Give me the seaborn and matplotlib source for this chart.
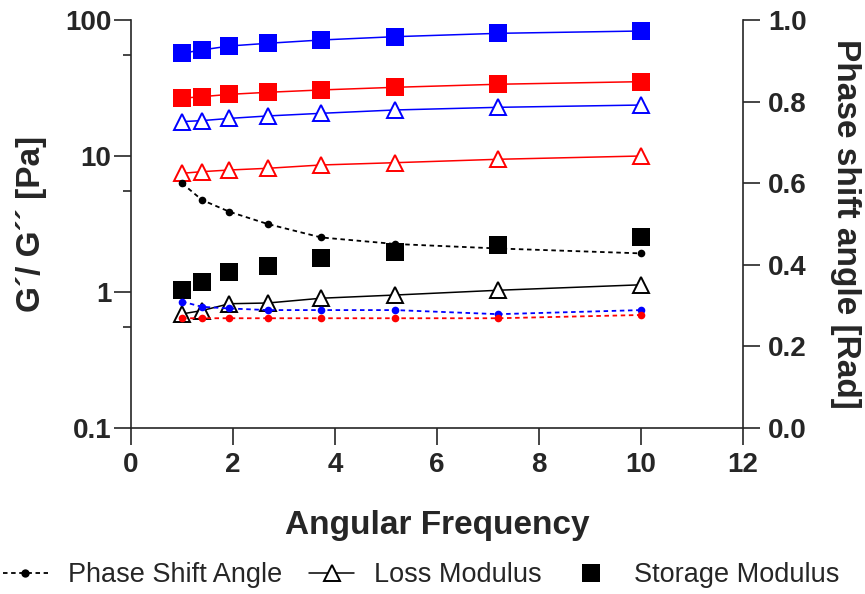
import matplotlib
matplotlib.use("Agg")
import matplotlib.pyplot as plt
from matplotlib.lines import Line2D
import seaborn as sns

# -------- Data --------
freq = [1.0, 1.39, 1.93, 2.68, 3.73, 5.18, 7.20, 10.0]

storage_blue = [56.9, 60.2, 64.4, 67.4, 71.3, 75.4, 79.8, 83.0]
storage_red = [26.6, 27.3, 28.4, 29.4, 30.6, 32.0, 33.7, 35.2]
storage_black = [1.03, 1.19, 1.41, 1.55, 1.77, 1.98, 2.22, 2.52]

loss_blue = [17.9, 18.2, 18.9, 19.7, 20.6, 21.8, 22.8, 23.7]
loss_red = [7.46, 7.67, 7.89, 8.12, 8.59, 8.93, 9.46, 10.0]
loss_black = [0.69, 0.73, 0.82, 0.83, 0.90, 0.95, 1.03, 1.13]

phase_black = [0.600, 0.559, 0.530, 0.500, 0.467, 0.451, 0.440, 0.428]
phase_blue = [0.310, 0.297, 0.293, 0.289, 0.289, 0.289, 0.279, 0.289]
phase_red = [0.269, 0.269, 0.269, 0.269, 0.269, 0.269, 0.269, 0.277]

x_ticks = [0, 2, 4, 6, 8, 10, 12]
left_ticks = [0.1, 1, 10, 100]
left_labels = ["0.1", "1", "10", "100"]
left_minor = [0.55, 5.5, 55]
right_ticks = [0.0, 0.2, 0.4, 0.6, 0.8, 1.0]
right_labels = ["0.0", "0.2", "0.4", "0.6", "0.8", "1.0"]

BLUE = "#0000FF"
RED = "#FF0000"
BLACK = "#000000"

# -------- Style --------
sns.set_style("ticks")
plt.rcParams["font.family"] = ["Liberation Sans", "DejaVu Sans"]

fig = plt.figure(figsize=(8.65, 5.94), dpi=100)
ax = fig.add_axes([131 / 865, 1 - 428 / 594, 612 / 865, 408 / 594])
ax2 = ax.twinx()

line_w = 1.1

# storage modulus (filled squares)
for vals, col in [(storage_blue, BLUE), (storage_red, RED)]:
    sns.lineplot(x=freq, y=vals, ax=ax, color=col, linewidth=line_w, marker="s",
                 markersize=13, markerfacecolor=col, markeredgecolor=col,
                 markeredgewidth=0, sort=False)
sns.scatterplot(x=freq, y=storage_black, ax=ax, color=BLACK, marker="s", s=13 ** 2,
                linewidth=0, zorder=3)

# loss modulus (open triangles)
for vals, col in [(loss_blue, BLUE), (loss_red, RED), (loss_black, BLACK)]:
    sns.lineplot(x=freq, y=vals, ax=ax, color=col, linewidth=line_w, marker="^",
                 markersize=12, markerfacecolor="white", markeredgecolor=col,
                 markeredgewidth=1.4, sort=False)

# phase shift angle (right axis)
for vals, col in [(phase_black, BLACK), (phase_blue, BLUE), (phase_red, RED)]:
    sns.lineplot(x=freq, y=vals, ax=ax2, color=col, linewidth=1.3, linestyle=(0, (2.5, 2)),
                 marker="o", markersize=5.5, markerfacecolor=col, markeredgecolor=col,
                 markeredgewidth=0, sort=False)

# -------- Axes --------
ax.set_xlim(0, 12)
ax.set_yscale("log")
ax.set_ylim(0.1, 100)
ax2.set_ylim(0, 1)

ax.set_xticks(x_ticks)
ax.set_xticklabels([str(t) for t in x_ticks])
ax.set_yticks(left_ticks)
ax.set_yticklabels(left_labels)
ax.set_yticks(left_minor, minor=True)
ax.set_yticklabels([], minor=True)
ax2.set_yticks(right_ticks)
ax2.set_yticklabels(right_labels)

tick_font = dict(labelsize=20)
ax.tick_params(axis="x", which="major", length=12, width=1.2, pad=5, **tick_font)
ax.tick_params(axis="y", which="major", length=12, width=1.2, pad=2, **tick_font)
ax.tick_params(axis="y", which="minor", length=6, width=1.2)
ax2.tick_params(axis="y", which="major", length=12, width=1.2, pad=6, **tick_font)
for lab in ax.get_xticklabels() + ax.get_yticklabels() + ax2.get_yticklabels():
    lab.set_fontweight("bold")

for a in (ax, ax2):
    a.spines["top"].set_visible(False)
    for s in a.spines.values():
        s.set_linewidth(1.2)
ax.spines["right"].set_visible(False)
ax2.spines["left"].set_visible(False)
ax2.spines["bottom"].set_visible(False)

ax.set_xlabel("Angular Frequency", fontsize=24, fontweight="bold")
ax.xaxis.set_label_coords(0.5, -0.238)
ax.xaxis.label.set_va("center")
ax.set_ylabel("G´/ G´´ [Pa]", fontsize=24, fontweight="bold")
ax.yaxis.set_label_coords(-0.163, 0.5)
ax.yaxis.label.set_va("center")
ax2.set_ylabel("Phase shift angle [Rad]", fontsize=24, fontweight="bold", rotation=270)
ax2.yaxis.set_label_coords(1.168, 0.5)
ax2.yaxis.label.set_va("center")

# -------- Legend --------
handles = [
    Line2D([], [], color=BLACK, linewidth=1.3, linestyle=(0, (2.5, 2)), marker="o",
           markersize=6, markeredgewidth=0),
    Line2D([], [], color=BLACK, linewidth=line_w, marker="^", markersize=12,
           markerfacecolor="white", markeredgecolor=BLACK, markeredgewidth=1.4),
    Line2D([], [], color=BLACK, linewidth=0, marker="s", markersize=13, markeredgewidth=0),
]
labels = ["Phase Shift Angle", "Loss Modulus", "Storage Modulus"]
fig.legend(handles, labels, loc="center", bbox_to_anchor=(0.487, 1 - 575 / 594), ncol=3,
           frameon=False, fontsize=19.5, handlelength=1.65, handletextpad=0.75,
           columnspacing=1.0, numpoints=1)

fig.savefig("out.png", dpi=100)
plt.close(fig)
